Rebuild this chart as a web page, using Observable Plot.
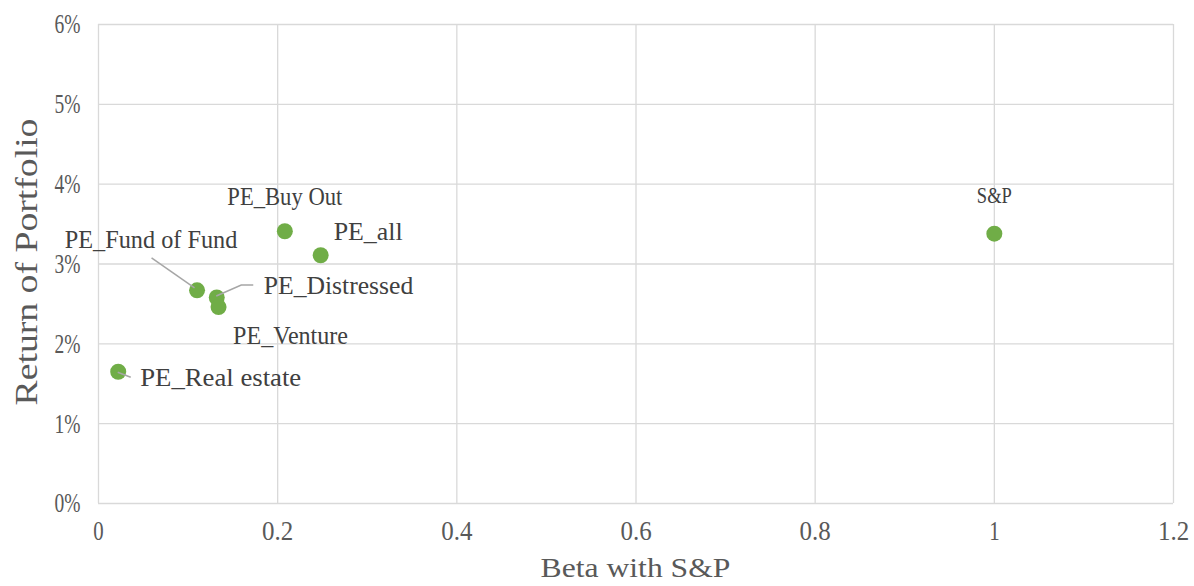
<!DOCTYPE html>
<html>
<head>
<meta charset="utf-8">
<script src="https://cdn.jsdelivr.net/npm/d3@7"></script>
<script src="https://cdn.jsdelivr.net/npm/@observablehq/plot@0.6"></script>
<style>
  html, body { margin: 0; padding: 0; background: #fff; }
  #chart svg { display: block; }
</style>
</head>
<body>
<div id="chart"></div>
<script>
// Data
const names = ["PE_Buy Out", "PE_all", "PE_Fund of Fund", "PE_Distressed", "PE_Venture", "PE_Real estate", "S&P"];
const betas = [0.208, 0.248, 0.110, 0.132, 0.134, 0.022, 1.0];
const returns = [0.0341, 0.0311, 0.0267, 0.0258, 0.0246, 0.0165, 0.0338];
const xTicks = [0, 0.2, 0.4, 0.6, 0.8, 1, 1.2];
const xTickLabels = ["0", "0.2", "0.4", "0.6", "0.8", "1", "1.2"];
const yTicks = [0, 0.01, 0.02, 0.03, 0.04, 0.05, 0.06];
const yTickLabels = ["0%", "1%", "2%", "3%", "4%", "5%", "6%"];

// Label placement (pixel offsets, styling)
const labelDx = [0, 13, -46, 47, 72, 22, 0];
const labelDy = [-34, -23, -50, -12, 29, 6, -38];
const labelAnchor = ["middle", "start", "middle", "start", "middle", "start", "middle"];
const leaders = {
  "PE_Fund of Fund": [[-2, -2], [-45, -32]],
  "PE_Distressed": [[0, -1], [25, -12], [37, -12]],
  "PE_Real estate": [[0, 1], [13, 6]]
};

const data = names.map((n, i) => ({name: n, beta: betas[i], ret: returns[i]}));
const serif = "'Liberation Serif', 'DejaVu Serif', serif";

const textMarks = data.map((d, i) => Plot.text([d], {
  x: "beta", y: "ret", text: "name",
  dx: labelDx[i], dy: labelDy[i], textAnchor: labelAnchor[i],
  fill: "#404040", fontSize: d.name === "S&P" ? 23 : 25,
  fontFamily: serif
}));

const chart = Plot.plot({
  width: 1194,
  height: 586,
  marginLeft: 98,
  marginRight: 21,
  marginTop: 24,
  marginBottom: 83,
  style: {background: "#fff", overflow: "visible"},
  x: {domain: [0, 1.2], ticks: xTicks, tickFormat: (d, i) => xTickLabels[i], label: null},
  y: {domain: [0, 0.06], ticks: yTicks, tickFormat: (d, i) => yTickLabels[i], label: null},
  marks: [
    Plot.gridX(xTicks, {stroke: "#d9d9d9", strokeOpacity: 1, strokeWidth: 1.3}),
    Plot.gridY(yTicks, {stroke: "#d9d9d9", strokeOpacity: 1, strokeWidth: 1.3}),
    Plot.axisX(xTicks, {tickSize: 0, tickPadding: 17, fontSize: 28, fill: "#595959",
      fontFamily: serif, tickFormat: (d, i) => xTickLabels[i]}),
    Plot.axisY(yTicks, {tickSize: 0, tickPadding: 18, fontSize: 28, fill: "#595959",
      fontFamily: serif, tickFormat: (d, i) => yTickLabels[i]}),
    Plot.dot(data, {x: "beta", y: "ret", r: 8, fill: "#70AD47", stroke: "none"}),
    ...textMarks
  ]
});

document.getElementById("chart").appendChild(chart);
const svg = d3.select(chart);

// Condensed, fixed-pitch look of the original font
function condense(sel, perChar, fixed) {
  sel.each(function() {
    const n = this.textContent.length;
    const w = fixed && fixed[this.textContent] ? fixed[this.textContent] : n * perChar;
    this.setAttribute("textLength", w);
    this.setAttribute("lengthAdjust", "spacingAndGlyphs");
  });
}
condense(svg.selectAll('g[aria-label="x-axis tick label"] text'), 10.4);
condense(svg.selectAll('g[aria-label="y-axis tick label"] text'), 13);
condense(svg.selectAll('g[aria-label="text"] text'), 11.5, {"S&P": 35});

// Leader lines anchored to the points via the chart's scales
const sx = chart.scale("x"), sy = chart.scale("y");
data.forEach(d => {
  const pts = leaders[d.name];
  if (!pts) return;
  const px = sx.apply(d.beta), py = sy.apply(d.ret);
  svg.append("path")
    .attr("d", d3.line()(pts.map(([a, b]) => [px + a, py + b])))
    .attr("fill", "none").attr("stroke", "#a6a6a6").attr("stroke-width", 1.5);
});

// Axis titles
const xt = svg.append("text")
  .attr("x", (98 + 1173) / 2).attr("y", 577)
  .attr("text-anchor", "middle")
  .attr("font-family", serif).attr("font-size", 27).attr("fill", "#595959")
  .text("Beta with S&P");
condense(xt, 14.6);
const yt = svg.append("text")
  .attr("transform", "translate(37,262) rotate(-90)")
  .attr("text-anchor", "middle")
  .attr("font-family", serif).attr("font-size", 31).attr("fill", "#595959")
  .text("Return of Portfolio");
condense(yt, 15.1);
</script>
</body>
</html>
